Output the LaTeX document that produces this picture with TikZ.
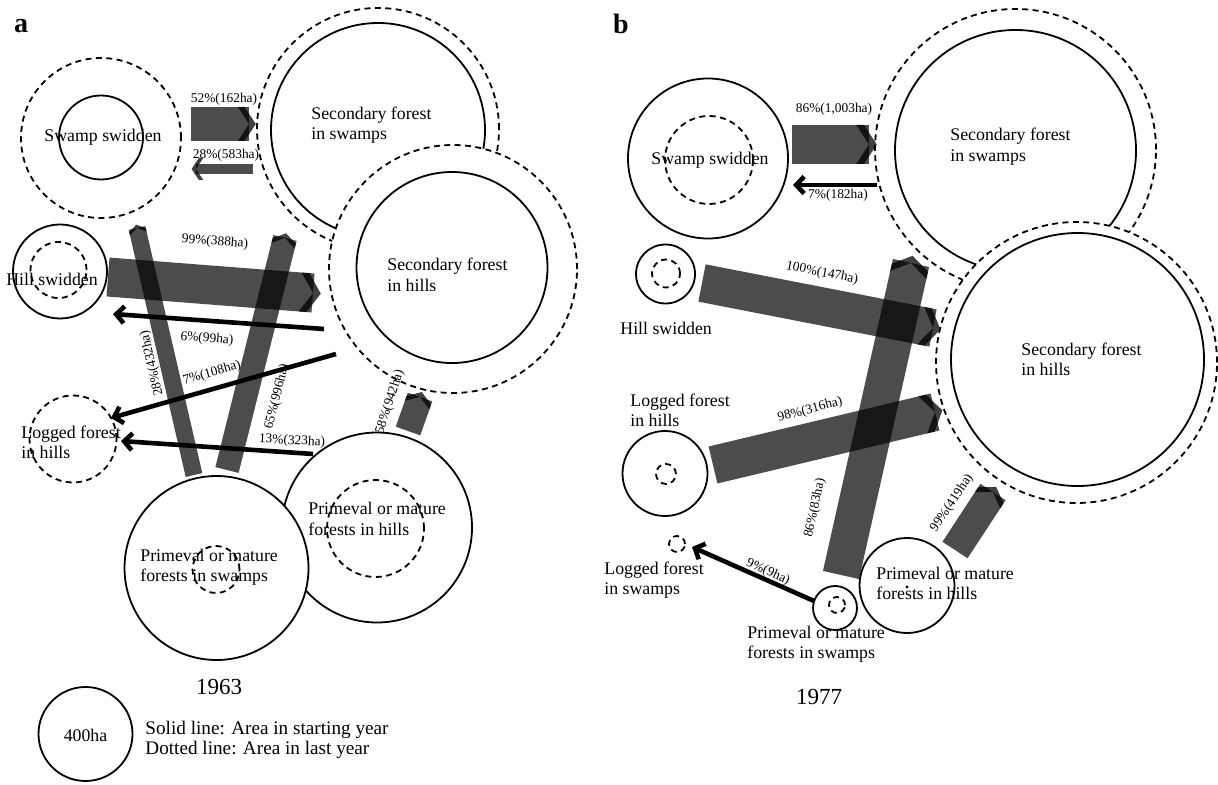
\documentclass[tikz,border=0pt]{standalone}
\usepackage{fontspec}
\setmainfont{Liberation Serif}
\usetikzlibrary{arrows.meta,decorations.markings}
\tikzset{
  startc/.style={circle,draw=black,line width=0.9pt,fill=white,inner sep=0pt,outer sep=0pt},
  lastc/.style={circle,draw=black,line width=0.9pt,dash pattern=on 3pt off 2.2pt,
                inner sep=0pt,outer sep=0pt},
  lbl/.style={font=\fontsize{8.9}{10.2}\selectfont,align=left,inner sep=0pt},
  pct/.style={font=\fontsize{6.7}{7}\selectfont,inner sep=0.5pt},
  year/.style={font=\fontsize{11.5}{12}\selectfont},
  tag/.style={font=\fontsize{14}{14}\selectfont\bfseries},
  chevsize/.code={\def\chv{#1}},
  flow/.style={line width=#1,draw=black,draw opacity=0.7,chevsize=#1,
    postaction={decorate,decoration={markings,mark=at position 1 with {
      \fill[black,fill opacity=0.75]
        ({0.2*\chv},0pt) -- ({-0.13*\chv},{0.5*\chv}) -- ({-0.33*\chv},{0.5*\chv})
        -- (0pt,0pt) -- ({-0.33*\chv},{-0.5*\chv}) -- ({-0.13*\chv},{-0.5*\chv}) -- cycle;}}}},
  thinflow/.style={line width=2.3pt,-{Straight Barb[length=4pt,width=8.5pt]}},
}

\begin{document}
\begin{tikzpicture}[x=0.5pt,y=-0.5pt]
  \useasboundingbox (0,0) rectangle (1218,785);

  % ---------------- a (1963)
  \node[tag] (tagA) at (21,26) {a};
  \node[lastc,minimum size=80pt] (sswAd) at (101,138) {};
  \node[startc,minimum size=42pt] (sswAs) at (101,137.5) {};
  \node[lastc,minimum size=121pt] (sfsAd) at (378,129) {};
  \node[startc,minimum size=107pt] (sfsAs) at (378,130) {};
  \node[lastc,fill=white,minimum size=124pt] (sfhAd) at (453,269) {};
  \node[startc,minimum size=95.5pt] (sfhAs) at (452,267.5) {};
  \node[startc,minimum size=47pt] (hswAs) at (60,271.5) {};
  \node[lastc,minimum size=28pt] (hswAd) at (58.5,270) {};
  \node[lastc,minimum size=43.5pt] (lfhAd) at (73,439) {};
  \node[startc,minimum size=95pt] (pfhAs) at (377,527.5) {};
  \node[lastc,minimum size=48.5pt] (pfhAd) at (375.5,528.5) {};
  \node[startc,minimum size=92pt] (pfsAs) at (216.5,568) {};
  \node[lastc,minimum size=23.5pt] (pfsAd) at (216,569.5) {};

  \coordinate (a52s) at (191,124);   \coordinate (a52e) at (249,124);
  \coordinate (a28s) at (253,169);   \coordinate (a28e) at (196,169);
  \coordinate (a99s) at (108,277);   \coordinate (a99e) at (313,293);
  \coordinate (a432s) at (194,475);  \coordinate (a432e) at (137,228);
  \coordinate (a65s) at (227,470);   \coordinate (a65e) at (285,238);
  \coordinate (a58s) at (408,431);   \coordinate (a58e) at (420,397);
  \draw[flow=17pt] (a52s) -- (a52e);
  \draw[flow=5pt,chevsize=11pt] (a28s) -- (a28e);
  \draw[flow=19.5pt] (a99s) -- (a99e);
  \draw[flow=8.5pt] (a432s) -- (a432e);
  \draw[flow=12pt] (a65s) -- (a65e);
  \draw[flow=13pt] (a58s) -- (a58e);

  \coordinate (a6s) at (324,329);    \coordinate (a6e) at (113,314);
  \coordinate (a7s) at (336,354);    \coordinate (a7e) at (111,418);
  \coordinate (a13s) at (313,454);   \coordinate (a13e) at (121,441);
  \draw[thinflow] (a6s) -- (a6e);
  \draw[thinflow] (a7s) -- (a7e);
  \draw[thinflow] (a13s) -- (a13e);

  \node[pct] (pA52) at (224,99) {52\%(162ha)};
  \node[pct] (pA28) at (226,155) {28\%(583ha)};
  \node[pct,rotate=-4] (pA99) at (215,242) {99\%(388ha)};
  \node[pct,rotate=-4] (pA6) at (207,339) {6\%(99ha)};
  \node[pct,rotate=16] (pA7) at (212,373) {7\%(108ha)};
  \node[pct,rotate=-3] (pA13) at (292,441) {13\%(323ha)};
  \node[pct,rotate=103] (pA432) at (152,363) {28\%(432ha)};
  \node[pct,rotate=76] (pA65) at (277,397) {65\%(996ha)};
  \node[pct,rotate=72] (pA58) at (390,402) {58\%(942ha)};

  \node[lbl] (sswAt) at (103,137) {Swamp swidden};
  \node[lbl,anchor=west] (sfsAt) at (311,125) {Secondary forest\\in swamps};
  \node[lbl,anchor=west] (sfhAt) at (387,275) {Secondary forest\\in hills};
  \node[lbl] (hswAt) at (52,279) {Hill swidden};
  \node[lbl,anchor=west] (lfhAt) at (21,442.5) {Logged forest\\in hills};
  \node[lbl,anchor=west] (pfsAt) at (140,567) {Primeval or mature\\forests in swamps};
  \node[lbl,anchor=west] (pfhAt) at (308,519) {Primeval or mature\\forests in hills};
  \node[year] (yrA) at (219,687) {1963};

  % legend
  \node[startc,minimum size=47pt] (key) at (85.5,734) {};
  \node[lbl] (keyt) at (85.5,735) {400ha};
  \node[font=\fontsize{9.6}{8}\selectfont,align=left,inner sep=0pt,anchor=west] (keyn)
    at (145,740) {Solid line: Area in starting year\\Dotted line: Area in last year};

  % ---------------- b (1977)
  \node[tag] (tagB) at (621,24) {b};
  \node[startc,minimum size=80pt] (sswBs) at (708,158.5) {};
  \node[lastc,minimum size=44pt] (sswBd) at (709,160) {};
  \node[lastc,minimum size=140.5pt] (sfsBd) at (1015.5,149.5) {};
  \node[startc,minimum size=120.5pt] (sfsBs) at (1015.5,150.5) {};
  \node[lastc,fill=white,minimum size=140.5pt] (sfhBd) at (1076.5,362.5) {};
  \node[startc,minimum size=126.5pt] (sfhBs) at (1077.5,359.5) {};
  \node[startc,minimum size=29.5pt] (hswBs) at (665.5,274) {};
  \node[lastc,minimum size=14pt] (hswBd) at (666,273.5) {};
  \node[startc,minimum size=42.5pt] (lfhBs) at (665,473.5) {};
  \node[lastc,minimum size=10pt] (lfhBd) at (666,474) {};
  \node[lastc,minimum size=8pt] (lfsBd) at (677,544) {};
  \node[startc,minimum size=22pt] (pfsBs) at (835,608) {};
  \node[lastc,minimum size=8pt] (pfsBd) at (837,605) {};
  \node[startc,minimum size=47.5pt] (pfhBs) at (907,585.5) {};
  \node[circle,fill=black,minimum size=1.6pt,inner sep=0pt] (pfhBd) at (907,587) {};

  \coordinate (b86s) at (792,144.5);  \coordinate (b86e) at (869,144.5);
  \coordinate (b100s) at (702,283);   \coordinate (b100e) at (933,328);
  \coordinate (b98s) at (713,465);    \coordinate (b98e) at (935,412);
  \coordinate (b83s) at (841,575);    \coordinate (b83e) at (911,263);
  \coordinate (b419s) at (955,550);   \coordinate (b419e) at (993,492);
  \draw[flow=19.5pt] (b86s) -- (b86e);
  \draw[flow=19pt] (b100s) -- (b100e);
  \draw[flow=19pt] (b98s) -- (b98e);
  \draw[flow=18.5pt] (b83s) -- (b83e);
  \draw[flow=15pt] (b419s) -- (b419e);

  \coordinate (b7s) at (877,185);     \coordinate (b7e) at (793,185);
  \coordinate (b9s) at (814,601);     \coordinate (b9e) at (692,547);
  \draw[thinflow] (b7s) -- (b7e);
  \draw[thinflow] (b9s) -- (b9e);

  \node[pct] (pB86) at (834,109) {86\%(1,003ha)};
  \node[pct] (pB7) at (838,195) {7\%(182ha)};
  \node[pct,rotate=-11] (pB100) at (822,273) {100\%(147ha)};
  \node[pct,rotate=15] (pB98) at (810,410) {98\%(316ha)};
  \node[pct,rotate=78] (pB83) at (815,508) {86\%(83ha)};
  \node[pct,rotate=56] (pB419) at (952,503) {99\%(419ha)};
  \node[pct,rotate=-24] (pB9) at (768,572) {9\%(9ha)};

  \node[lbl] (sswBt) at (710,160) {Swamp swidden};
  \node[lbl,anchor=west] (sfsBt) at (950,146.5) {Secondary forest\\in swamps};
  \node[lbl,anchor=west] (sfhBt) at (1021,359.5) {Secondary forest\\in hills};
  \node[lbl,anchor=west] (hswBt) at (620,328) {Hill swidden};
  \node[lbl,anchor=west] (lfhBt) at (630,410.5) {Logged forest\\in hills};
  \node[lbl,anchor=west] (lfsBt) at (604,580) {Logged forest\\in swamps};
  \node[lbl,anchor=west] (pfsBt) at (747,644) {Primeval or mature\\forests in swamps};
  \node[lbl,anchor=west] (pfhBt) at (876,583.5) {Primeval or mature\\forests in hills};
  \node[year] (yrB) at (819,697) {1977};
\end{tikzpicture}
\end{document}
